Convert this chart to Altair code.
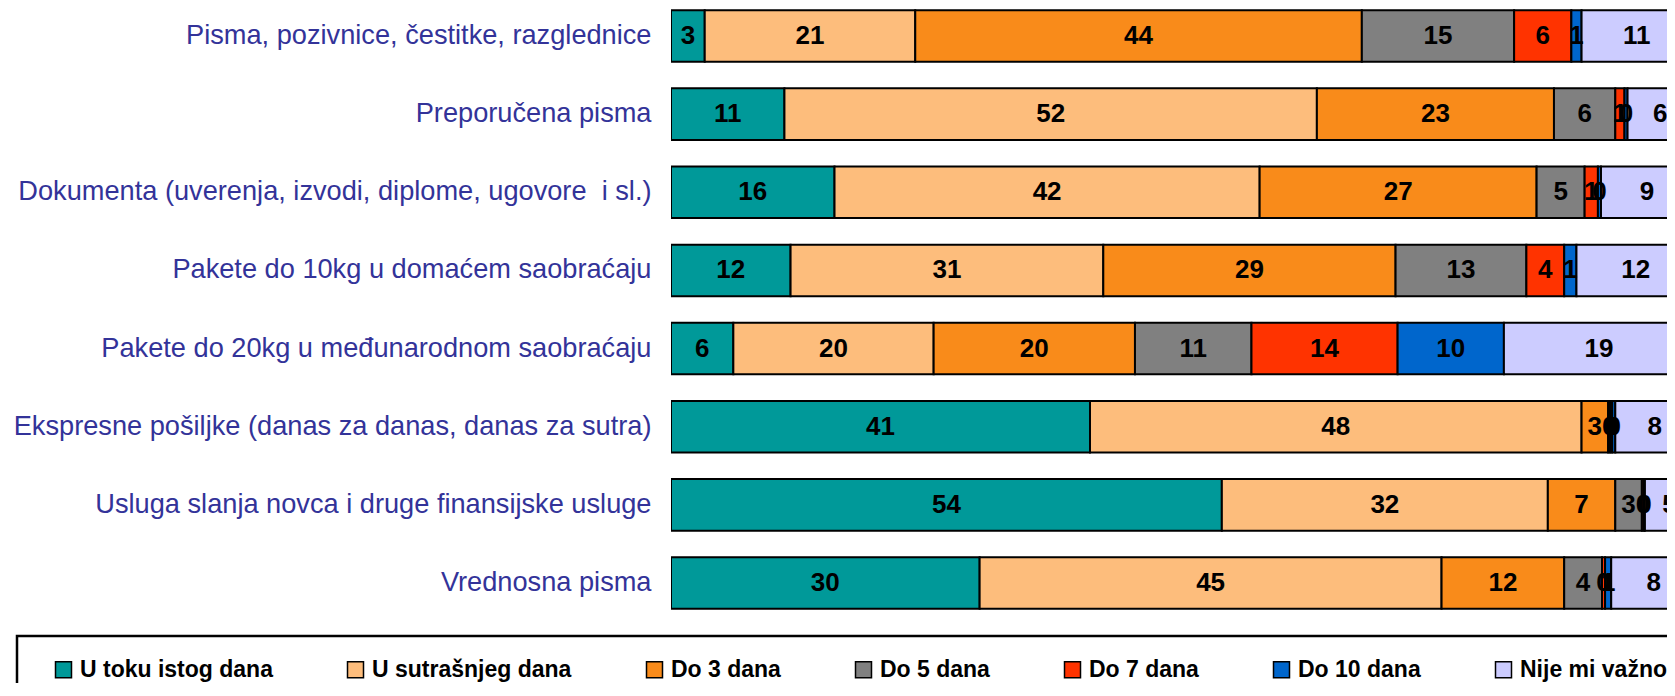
import altair as alt
import pandas as pd

categories = [
    "Pisma, pozivnice, čestitke, razglednice",
    "Preporučena pisma",
    "Dokumenta (uverenja, izvodi, diplome, ugovore\u00a0 i sl.)",
    "Pakete do 10kg u domaćem saobraćaju",
    "Pakete do 20kg u međunarodnom saobraćaju",
    "Ekspresne pošiljke (danas za danas, danas za sutra)",
    "Usluga slanja novca i druge finansijske usluge",
    "Vrednosna pisma",
]
series = ["U toku istog dana", "U sutrašnjeg dana", "Do 3 dana", "Do 5 dana",
          "Do 7 dana", "Do 10 dana", "Nije mi važno"]
colors = ["#009999", "#FDBD7C", "#F98B1A", "#808080", "#FF3300", "#0066CC", "#CCCCFF"]

u_toku = [3.3, 11.1, 16.0, 11.7, 6.1, 41.0, 53.9, 30.2]
u_sutra = [20.6, 52.1, 41.6, 30.6, 19.6, 48.1, 31.9, 45.2]
do3 = [43.7, 23.2, 27.1, 28.6, 19.7, 2.6, 6.6, 12.0]
do5 = [14.9, 6.0, 4.7, 12.8, 11.4, 0.2, 2.6, 3.7]
do7 = [5.6, 0.9, 1.3, 3.7, 14.3, 0.2, 0.2, 0.3]
do10 = [1.0, 0.3, 0.3, 1.2, 10.4, 0.3, 0.1, 0.6]
nije = [10.8, 6.4, 9.0, 11.6, 18.6, 7.7, 4.8, 8.3]

series_values = [u_toku, u_sutra, do3, do5, do7, do10, nije]
rows = []
for si, (s, vals) in enumerate(zip(series, series_values)):
    for c, v in zip(categories, vals):
        rows.append({"cat": c, "series": s, "order": si, "value": v})
df = pd.DataFrame(rows)

FONT = "Liberation Sans, Arial, sans-serif"

base = alt.Chart(df).transform_stack(
    stack="value", groupby=["cat"], as_=["x0", "x1"],
    sort=[alt.SortField("order", order="ascending")],
).transform_calculate(
    mid="(datum.x0 + datum.x1) / 2",
    label="format(datum.value, '.0f')",
)

xscale = alt.Scale(domain=[0, 97.46], nice=False, zero=False)
yenc = alt.Y(
    "cat:N", sort=categories, title=None,
    scale=alt.Scale(paddingInner=0.34, paddingOuter=0.028),
    axis=alt.Axis(labelFontSize=27.2, labelFont=FONT, labelColor="#333399",
                  ticks=False, domain=False, grid=False, labelPadding=20,
                  labelLimit=1000),
)

bars = base.mark_bar(stroke="black", strokeWidth=2, clip=True).encode(
    x=alt.X("x0:Q", scale=xscale, axis=None),
    x2="x1:Q",
    y=yenc,
    color=alt.Color(
        "series:N", sort=series,
        scale=alt.Scale(domain=series, range=colors),
        legend=alt.Legend(
            orient="none", legendX=-654, legendY=628,
            direction="horizontal", columns=7, columnPadding=71,
            title=" ", titleOrient="left", titleFontSize=1, titlePadding=13,
            symbolType="square", symbolSize=256, symbolStrokeColor="black",
            symbolStrokeWidth=1.5, symbolOpacity=1,
            labelFontSize=23, labelFontWeight="bold", labelFont=FONT,
            labelColor="black", labelOffset=5, labelLimit=400,
            padding=22, strokeColor="black",
        ),
    ),
)

texts = base.mark_text(
    font=FONT, fontSize=26, fontWeight="bold", color="black",
    align="center", baseline="middle", clip=True,
).encode(
    x=alt.X("mid:Q", scale=xscale, axis=None),
    y=yenc,
    text="label:N",
)

chart = alt.layer(bars, texts).properties(
    width=996, height=603,
    autosize=alt.AutoSizeParams(type="none"),
    padding={"left": 663, "top": 0, "right": 0, "bottom": 72},
).configure_view(stroke=None).configure_legend(strokeWidth=2.5)

chart.save("out.html", embed_options={"renderer": "svg", "actions": False})
